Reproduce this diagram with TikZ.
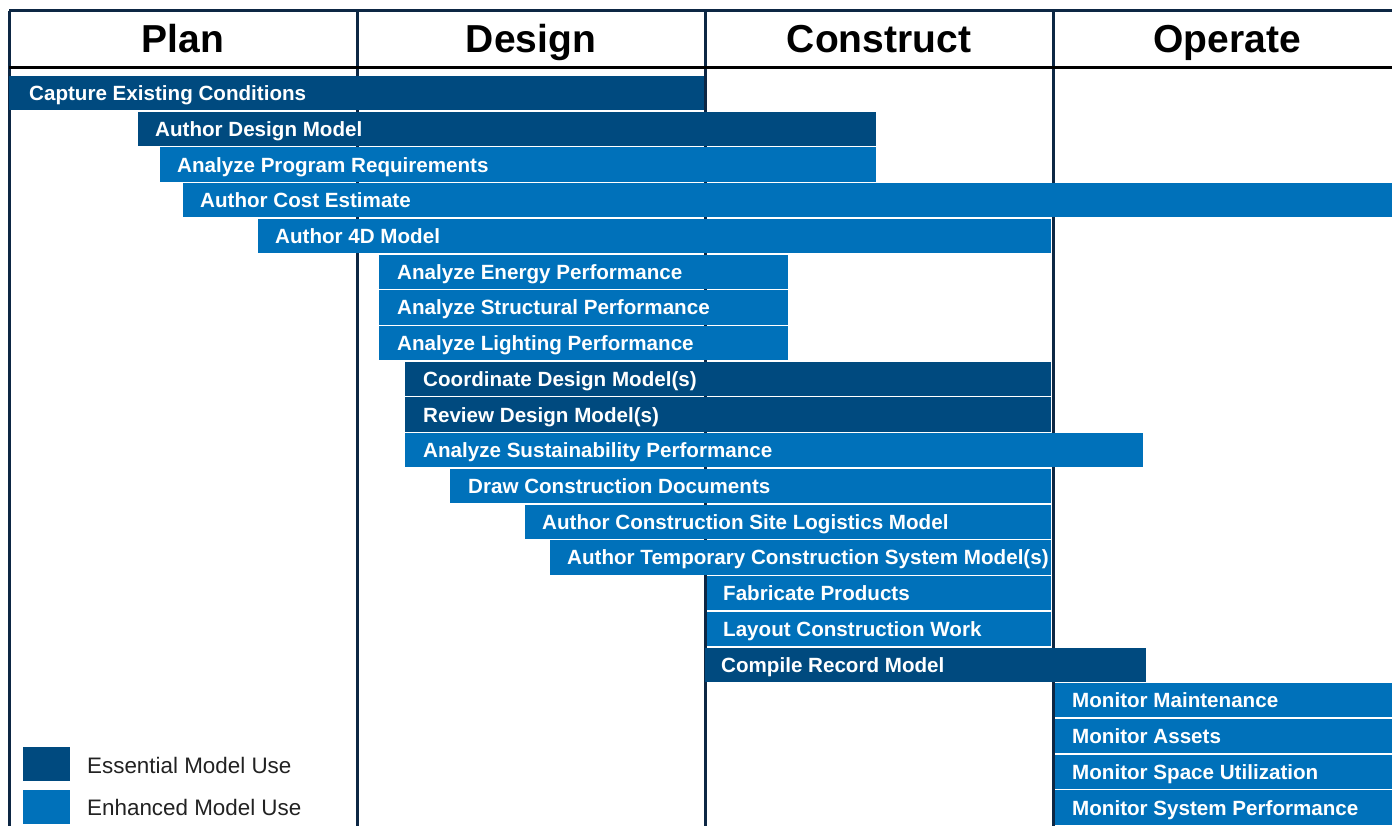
\documentclass[tikz,border=0pt]{standalone}
\usepackage{fontspec}
\setmainfont{Liberation Sans}
\definecolor{essential}{HTML}{004A7F}
\definecolor{enhanced}{HTML}{0071BA}
\definecolor{navy}{HTML}{0D2744}
\definecolor{legtext}{HTML}{222222}
\tikzset{
  bar/.style={inner sep=0pt, outer sep=0pt, minimum height=34.2pt, anchor=north west, draw=none},
  bartext/.style={text=white, font=\fontsize{20.6}{24}\selectfont\bfseries, inner sep=0pt, anchor=base west},
  header/.style={font=\fontsize{39}{46}\selectfont\bfseries, text=black, inner sep=0pt, anchor=base},
  frameline/.style={draw=navy, line width=3pt},
  headline/.style={draw=black, line width=3pt},
  legbox/.style={inner sep=0pt, outer sep=0pt, minimum width=47pt, minimum height=34pt, anchor=north west, draw=none},
  legtxt/.style={text=legtext, font=\fontsize{22.4}{26}\selectfont, inner sep=0pt, anchor=base west}
}
\newcommand\gbar[7]{%
  \pgfmathsetmacro\gbw{#3-#2}%
  \pgfmathsetmacro\gby{76+(#4-1)*35.72}%
  \node[bar, fill=#5, minimum width=\gbw pt] (#1) at (#2,\gby) {};
  \node[bartext] (#1t) at ([xshift=#7pt,yshift=-7.5pt]#1.west) {#6};
}
\begin{document}
\begin{tikzpicture}[x=1pt,y=-1pt]
\useasboundingbox (0,0) rectangle (1392,826);
\fill[white] (0,0) rectangle (1392,826);
% frame and dividers
\coordinate (tl) at (9,11);
\coordinate (tr) at (1392,11);
\coordinate (bl) at (9,826);
\coordinate (hl) at (9,68);
\coordinate (hr) at (1392,68);
\coordinate (d1t) at (357,11);
\coordinate (d1b) at (357,826);
\coordinate (d2t) at (705,11);
\coordinate (d2b) at (705,826);
\coordinate (d3t) at (1053,11);
\coordinate (d3b) at (1053,826);
\draw[frameline] (d1t) -- (d1b);
\draw[frameline] (d2t) -- (d2b);
\draw[frameline] (d3t) -- (d3b);
\draw[frameline] (tl) -- (tr);
\draw[frameline] (tl) -- (bl);
\draw[headline] (hl) -- (hr);
% headers
\node[header] (hplan) at (183,53) {Plan};
\node[header] (hdesign) at (531,53) {Design};
\node[header] (hconstruct) at (879,53) {Construct};
\node[header] (hoperate) at (1227,53) {Operate};
% bars
\gbar{b1}{9}{704}{1}{essential}{Capture Existing Conditions}{20}
\gbar{b2}{138}{876}{2}{essential}{Author Design Model}{17}
\gbar{b3}{160}{876}{3}{enhanced}{Analyze Program Requirements}{17}
\gbar{b4}{183}{1392}{4}{enhanced}{Author Cost Estimate}{17}
\gbar{b5}{258}{1051}{5}{enhanced}{Author 4D Model}{17}
\gbar{b6}{379}{788}{6}{enhanced}{Analyze Energy Performance}{18}
\gbar{b7}{379}{788}{7}{enhanced}{Analyze Structural Performance}{18}
\gbar{b8}{379}{788}{8}{enhanced}{Analyze Lighting Performance}{18}
\gbar{b9}{405}{1051}{9}{essential}{Coordinate Design Model(s)}{18}
\gbar{b10}{405}{1051}{10}{essential}{Review Design Model(s)}{18}
\gbar{b11}{405}{1143}{11}{enhanced}{Analyze Sustainability Performance}{18}
\gbar{b12}{450}{1051}{12}{enhanced}{Draw Construction Documents}{18}
\gbar{b13}{525}{1051}{13}{enhanced}{Author Construction Site Logistics Model}{17}
\gbar{b14}{550}{1051}{14}{enhanced}{Author Temporary Construction System Model(s)}{17}
\gbar{b15}{707}{1051}{15}{enhanced}{Fabricate Products}{16}
\gbar{b16}{707}{1051}{16}{enhanced}{Layout Construction Work}{16}
\gbar{b17}{705}{1146}{17}{essential}{Compile Record Model}{16}
\gbar{b18}{1055}{1392}{18}{enhanced}{Monitor Maintenance}{17}
\gbar{b19}{1055}{1392}{19}{enhanced}{Monitor Assets}{17}
\gbar{b20}{1055}{1392}{20}{enhanced}{Monitor Space Utilization}{17}
\gbar{b21}{1055}{1392}{21}{enhanced}{Monitor System Performance}{17}
% legend
\node[legbox, fill=essential] (legess) at (23,747) {};
\node[legbox, fill=enhanced] (legenh) at (23,790) {};
\node[legtxt] (legesst) at (87,773) {Essential Model Use};
\node[legtxt] (legenht) at (87,815) {Enhanced Model Use};
\end{tikzpicture}
\end{document}
